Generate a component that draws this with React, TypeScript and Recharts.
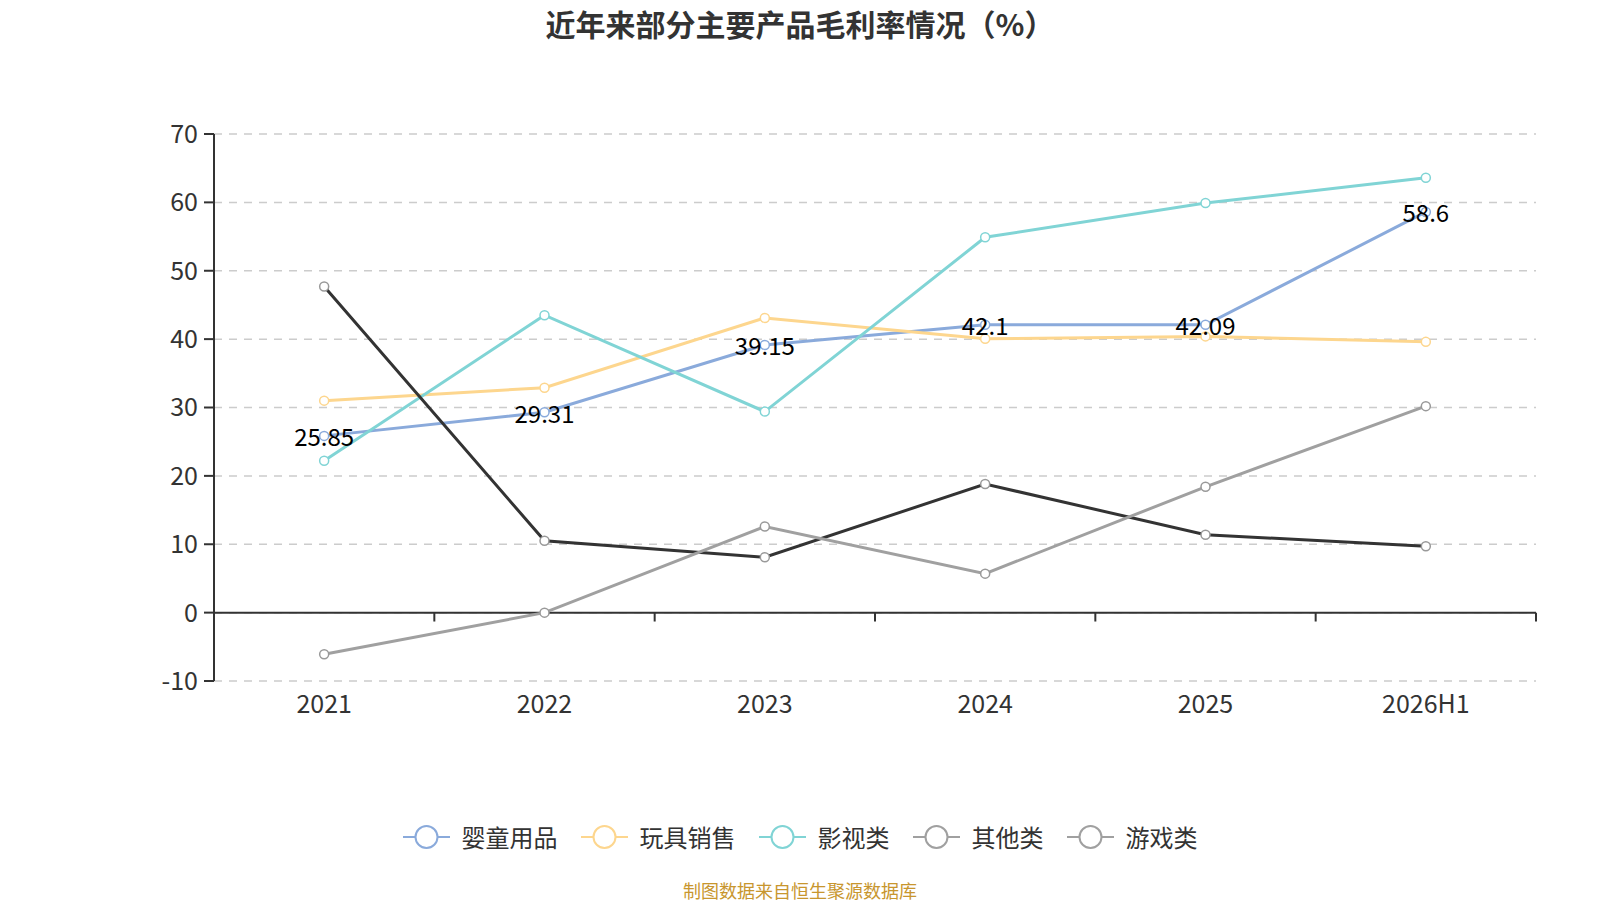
import React from 'react';
import { LineChart, Line, XAxis, YAxis, CartesianGrid, ReferenceLine, LabelList } from 'recharts';

const categories = ['2021', '2022', '2023', '2024', '2025', '2026H1'];
const seriesNames = ['婴童用品', '玩具销售', '影视类', '其他类', '游戏类'];
const babyValues = [25.85, 29.31, 39.15, 42.1, 42.09, 58.6];
const toyValues = [31.0, 32.9, 43.1, 40.05, 40.4, 39.6];
const filmValues = [22.2, 43.5, 29.4, 54.9, 59.9, 63.6];
const otherValues = [47.7, 10.5, 8.1, 18.8, 11.4, 9.7];
const gameValues = [-6.1, 0, 12.6, 5.7, 18.4, 30.2];
const yTicks = [-10, 0, 10, 20, 30, 40, 50, 60, 70];

const seriesKeys = ['baby', 'toy', 'film', 'other', 'game'];
const lineColors = ['#8aaadb', '#fdd68e', '#80d4d5', '#333333', '#a0a0a0'];
const dotColors = ['#8aaadb', '#fdd68e', '#80d4d5', '#999999', '#999999'];
const legendColors = ['#8aaadb', '#fdd68e', '#80d4d5', '#a0a0a0', '#a0a0a0'];

const seriesValues = [babyValues, toyValues, filmValues, otherValues, gameValues];

const data = categories.map((name, i) => {
  const row: Record<string, string | number> = { name };
  seriesKeys.forEach((k, s) => {
    row[k] = seriesValues[s][i];
  });
  return row;
});

const FONT = "'Noto Sans CJK SC', 'Noto Sans', sans-serif";

const ValueLabel = (props: any) => {
  const { x, y, value } = props;
  return (
    <text x={x} y={y} textAnchor="middle" dominantBaseline="central" fontSize={24} fill="#000" fontFamily={FONT}>
      {value}
    </text>
  );
};

const LegendIcon = ({ color }: { color: string }) => (
  <svg width={47} height={26} style={{ display: 'block' }}>
    <line x1={0} y1={13} x2={47} y2={13} stroke={color} strokeWidth={2} />
    <circle cx={23.5} cy={13} r={11} fill="#fff" stroke={color} strokeWidth={2} />
  </svg>
);

export default function App() {
  return (
    <div style={{ position: 'absolute', left: 0, top: 0, width: 1600, height: 900, background: '#fff', fontFamily: FONT }}>
      <div
        style={{
          position: 'absolute',
          left: 0,
          top: 3,
          width: 1600,
          textAlign: 'center',
          fontSize: 30,
          fontWeight: 'bold',
          color: '#333',
          lineHeight: '40px',
        }}
      >
        近年来部分主要产品毛利率情况（%）
      </div>
      <LineChart
        width={1600}
        height={900}
        data={data}
        margin={{ top: 134, right: 64, bottom: 179, left: 134 }}
      >
        <CartesianGrid vertical={false} stroke="#cccccc" strokeDasharray="8 7" strokeWidth={1.5} />
        <XAxis
          dataKey="name"
          scale="band"
          axisLine={false}
          tickLine={false}
          tickSize={0}
          tickMargin={14}
          height={40}
          interval={0}
          tick={{ fontSize: 25, fill: '#333', fontFamily: FONT }}
        />
        <YAxis
          width={80}
          domain={[-10, 70]}
          ticks={yTicks}
          interval={0}
          axisLine={{ stroke: '#333', strokeWidth: 2 }}
          tickLine={{ stroke: '#333', strokeWidth: 2 }}
          tickSize={10}
          tickMargin={6}
          tick={{ fontSize: 25, fill: '#333', fontFamily: FONT }}
        />
        <ReferenceLine y={0} stroke="#333" strokeWidth={2} />
        {categories.map((c) => (
          <ReferenceLine
            key={c}
            position="end"
            segment={[
              { x: c, y: 0 },
              { x: c, y: -1.3 },
            ]}
            stroke="#333"
            strokeWidth={2}
            ifOverflow="visible"
          />
        ))}
        {seriesKeys.map((k, s) => (
          <Line
            key={k}
            type="linear"
            dataKey={k}
            name={seriesNames[s]}
            stroke={lineColors[s]}
            strokeWidth={3}
            dot={{ r: 4.5, fill: '#fff', stroke: dotColors[s], strokeWidth: 1.5 }}
            activeDot={false}
            isAnimationActive={false}
          />
        ))}
        <Line
          type="linear"
          dataKey="baby"
          stroke="none"
          dot={false}
          activeDot={false}
          legendType="none"
          isAnimationActive={false}
        >
          <LabelList dataKey="baby" content={ValueLabel} />
        </Line>
      </LineChart>
      <div
        style={{
          position: 'absolute',
          left: 0,
          top: 822,
          width: 1600,
          display: 'flex',
          justifyContent: 'center',
          alignItems: 'center',
        }}
      >
        {seriesNames.map((n, s) => (
          <div key={n} style={{ display: 'flex', alignItems: 'center', marginLeft: s === 0 ? 0 : 23 }}>
            <LegendIcon color={legendColors[s]} />
            <span style={{ marginLeft: 12, fontSize: 24, color: '#333', lineHeight: '30px' }}>{n}</span>
          </div>
        ))}
      </div>
      <div
        style={{
          position: 'absolute',
          left: 0,
          top: 878,
          width: 1600,
          textAlign: 'center',
          fontSize: 18,
          color: '#c8962e',
          lineHeight: '24px',
        }}
      >
        制图数据来自恒生聚源数据库
      </div>
    </div>
  );
}
